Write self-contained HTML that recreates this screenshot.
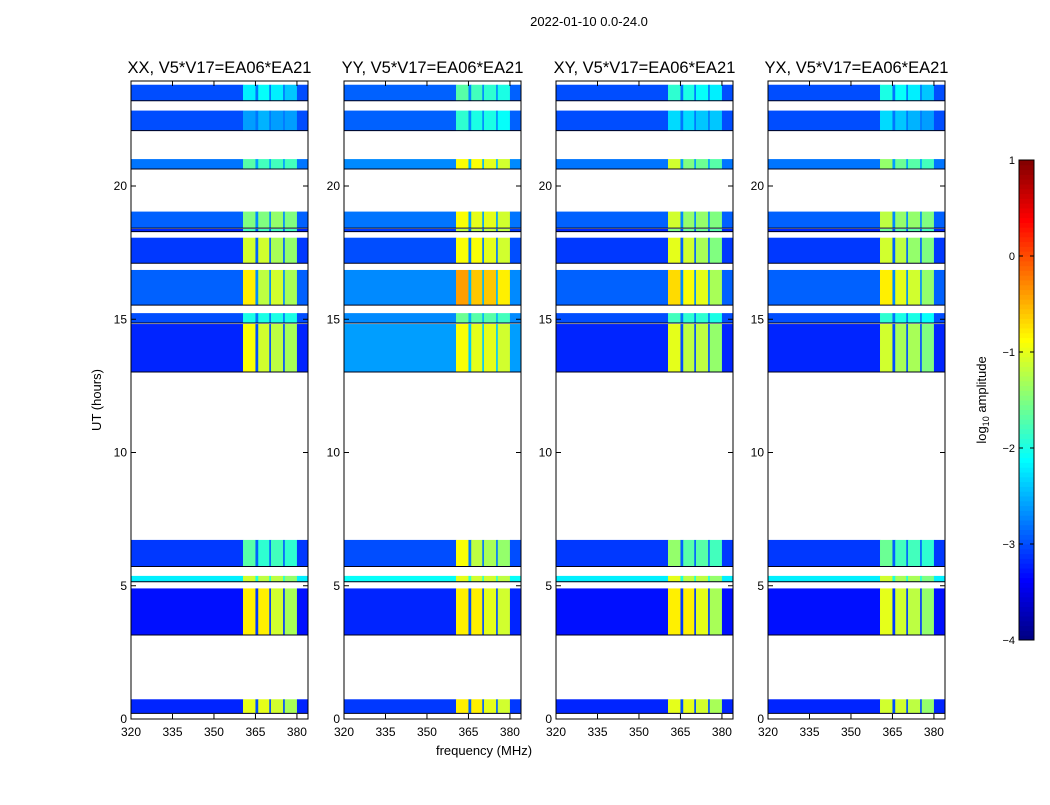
<!DOCTYPE html>
<html><head><meta charset="utf-8"><style>
body{margin:0;background:#fff;font-family:"Liberation Sans",sans-serif}
svg text{font-family:"Liberation Sans",sans-serif}
</style></head><body>
<svg id="chart" width="1050" height="800" viewBox="0 0 1050 800" xmlns="http://www.w3.org/2000/svg">
<rect width="1050" height="800" fill="#fff"/>
<text x="589" y="26" font-size="13" text-anchor="middle">2022-01-10 0.0-24.0</text>
<text x="484" y="755" font-size="13" text-anchor="middle">frequency (MHz)</text>
<text transform="translate(101,400) rotate(-90)" font-size="13" text-anchor="middle">UT (hours)</text>
<g id="panels"></g>
<g id="cbar"></g>
</svg>
<script>
// ---- data ----
const panelTitles = ["XX, V5*V17=EA06*EA21","YY, V5*V17=EA06*EA21","XY, V5*V17=EA06*EA21","YX, V5*V17=EA06*EA21"];
const xTicks = [320,335,350,365,380];
const yTicks = [0,5,10,15,20];
const cbTicks = [1,0,-1,-2,-3,-4];
const cbTickLabels = ["1","0","\u22121","\u22122","\u22123","\u22124"];
// time bands (UT hours start, end)
const bandStart = [23.2,22.08,20.64,18.42,18.29,17.10,15.53,14.86,13.02,5.72,5.15,3.15,0.21];
const bandEnd   = [23.8,22.83,21.01,19.04,18.39,18.06,16.85,15.23,14.82,6.72,5.37,4.90,0.74];
// frequency blocks (MHz) : low, b1, gap, b2, gap, b3, gap, b4, edge
const blockStart = [320,360.5,365,366,370,370.6,375,375.6,380];
const blockEnd   = [360.5,365,366,370,370.6,375,375.6,380,384];
// log10 amplitude per band per block [low, b1, b2, b3, b4]
const valsXX = [[-3.0,-2.2,-2.1,-2.2,-2.4],[-3.0,-2.6,-2.5,-2.6,-2.6],[-2.8,-1.7,-1.8,-1.8,-1.8],[-2.9,-1.5,-1.5,-1.4,-1.5],[-3.2,-1.8,-1.8,-1.8,-1.8],[-3.1,-1.1,-1.1,-1.3,-1.4],[-2.9,-0.8,-1.2,-1.1,-1.3],[-3.0,-2.0,-2.0,-2.0,-2.0],[-3.2,-0.9,-1.1,-1.2,-1.3],[-3.1,-1.7,-1.9,-1.8,-1.9],[-2.2,-1.1,-1.2,-1.2,-1.4],[-3.3,-0.8,-0.8,-1.1,-1.3],[-3.2,-1.0,-1.0,-1.1,-1.3]];
const valsYY = [[-2.9,-1.7,-1.8,-1.9,-2.0],[-2.9,-1.9,-2.0,-2.0,-2.1],[-2.7,-0.9,-0.9,-1.0,-1.1],[-2.8,-0.9,-1.0,-1.0,-1.1],[-3.1,-1.2,-1.2,-1.2,-1.2],[-3.0,-0.9,-0.9,-1.0,-1.1],[-2.7,-0.4,-0.6,-0.6,-0.8],[-2.7,-1.6,-1.7,-1.7,-1.8],[-2.6,-0.9,-1.0,-1.0,-1.1],[-3.0,-0.9,-1.2,-1.3,-1.4],[-2.1,-1.0,-1.1,-1.1,-1.2],[-3.2,-0.8,-0.8,-1.0,-1.1],[-3.1,-0.8,-0.8,-1.0,-1.1]];
const valsXY = [[-3.0,-1.9,-2.0,-2.1,-2.2],[-3.0,-2.3,-2.3,-2.4,-2.4],[-2.8,-1.1,-1.5,-1.6,-1.7],[-2.9,-1.1,-1.4,-1.4,-1.5],[-3.2,-1.5,-1.6,-1.6,-1.7],[-3.1,-1.0,-1.1,-1.3,-1.5],[-2.9,-0.7,-0.9,-1.0,-1.3],[-3.0,-1.8,-1.9,-1.9,-2.0],[-3.2,-1.0,-1.2,-1.2,-1.4],[-3.1,-1.4,-1.7,-1.7,-1.8],[-2.2,-1.0,-1.2,-1.2,-1.4],[-3.3,-0.8,-0.8,-1.0,-1.3],[-3.2,-1.0,-1.0,-1.1,-1.3]];
const valsYX = [[-3.0,-2.0,-2.1,-2.2,-2.4],[-3.0,-2.3,-2.4,-2.5,-2.6],[-2.8,-1.4,-1.6,-1.7,-1.8],[-2.9,-1.2,-1.4,-1.4,-1.5],[-3.2,-1.6,-1.7,-1.7,-1.8],[-3.1,-1.1,-1.2,-1.4,-1.5],[-2.9,-0.8,-1.0,-1.1,-1.4],[-3.0,-1.9,-2.0,-2.0,-2.1],[-3.2,-1.1,-1.3,-1.3,-1.5],[-3.1,-1.6,-1.8,-1.8,-1.9],[-2.2,-1.1,-1.3,-1.3,-1.5],[-3.3,-1.0,-1.1,-1.2,-1.4],[-3.2,-1.1,-1.1,-1.2,-1.4]];
const panelVals = [valsXX,valsYY,valsXY,valsYX];
const blockIdx = [0,1,-1,2,-1,3,-1,4,0]; // which value column each block uses (-1 = gap)

// ---- layout ----
const panelLeft = [131,344,556,768], PW = 177, TOP = 81, BOT = 719;
const fMin = 320, fMax = 384, hMin = 0, hMax = 23.94;
const NS = "http://www.w3.org/2000/svg";
function el(tag, attrs, parent){const e=document.createElementNS(NS,tag);for(const k in attrs)e.setAttribute(k,attrs[k]);parent.appendChild(e);return e;}
function jet(v){
  let t=(v+4)/5; t=Math.max(0,Math.min(1,t));
  const f=x=>Math.max(0,Math.min(1,x));
  const r=f(Math.min(4*t-1.5,-4*t+4.5)), g=f(Math.min(4*t-0.5,-4*t+3.5)), b=f(Math.min(4*t+0.5,-4*t+2.5));
  return `rgb(${Math.round(r*255)},${Math.round(g*255)},${Math.round(b*255)})`;
}
const yOf = h => BOT - (h-hMin)/(hMax-hMin)*(BOT-TOP);
const panels = document.getElementById('panels');
panelVals.forEach((vals,p)=>{
  const L = panelLeft[p];
  const xOf = f => L + (f-fMin)/(fMax-fMin)*PW;
  const g = el('g',{},panels);
  
  
  bandStart.forEach((hs,bi)=>{
    const he = bandEnd[bi];
    blockStart.forEach((fs,k)=>{
      const idx = blockIdx[k];
      const v = idx<0 ? vals[bi][0]+0.2 : vals[bi][idx];
      const r = el('rect',{x:xOf(fs),y:yOf(he),width:xOf(blockEnd[k])-xOf(fs)+0.3,height:yOf(hs)-yOf(he),fill:jet(v)},g);
      
      
    });
    el('line',{x1:L,x2:L+PW,y1:yOf(hs),y2:yOf(hs),stroke:'#000018','stroke-width':1},g);
  });
  el('rect',{x:L,y:TOP,width:PW,height:BOT-TOP,fill:'none',stroke:'#000','stroke-width':1},g);
  const t = el('text',{x:L+PW/2,y:73,'font-size':16.5,'text-anchor':'middle'},g);
  t.textContent = panelTitles[p];
  
  
  xTicks.forEach(f=>{
    const x=xOf(f);
    el('line',{x1:x,x2:x,y1:BOT,y2:BOT-5,stroke:'#000'},g);
    el('line',{x1:x,x2:x,y1:TOP,y2:TOP+5,stroke:'#000'},g);
    const tx=el('text',{x:x,y:736,'font-size':12,'text-anchor':'middle'},g);
    tx.textContent=f;
    
    
  });
  yTicks.forEach(h=>{
    const y=yOf(h);
    el('line',{x1:L,x2:L+5,y1:y,y2:y,stroke:'#000'},g);
    el('line',{x1:L+PW,x2:L+PW-5,y1:y,y2:y,stroke:'#000'},g);
    const ty=el('text',{x:L-4,y:y+4,'font-size':12,'text-anchor':'end'},g);
    ty.textContent=h;
    
    
  });
});
// colorbar
const cb = document.getElementById('cbar');
const CBX=1019, CBW=15, CBT=160, CBB=640;
const cbOf = v => CBB - (v+4)/5*(CBB-CBT);
for(let i=0;i<100;i++){
  const v0=-4+i*0.05;
  const r=el('rect',{x:CBX,y:cbOf(v0+0.05),width:CBW,height:(CBB-CBT)/100+0.5,fill:jet(v0+0.025)},cb);
  
  
}
el('rect',{x:CBX,y:CBT,width:CBW,height:CBB-CBT,fill:'none',stroke:'#000'},cb);
cbTicks.forEach((v,i)=>{
  const y=cbOf(v);
  el('line',{x1:CBX,x2:CBX+4,y1:y,y2:y,stroke:'#000'},cb);
  el('line',{x1:CBX+CBW,x2:CBX+CBW-4,y1:y,y2:y,stroke:'#000'},cb);
  const t=el('text',{x:CBX-4,y:y+4,'font-size':11,'text-anchor':'end'},cb);
  t.textContent=cbTickLabels[i];
  
  
});
const cl=el('text',{transform:'translate(986,400) rotate(-90)','font-size':13,'text-anchor':'middle'},cb);
cl.innerHTML='log<tspan font-size="9" dy="3">10</tspan><tspan dy="-3"> amplitude</tspan>';


</script>
</body></html>
